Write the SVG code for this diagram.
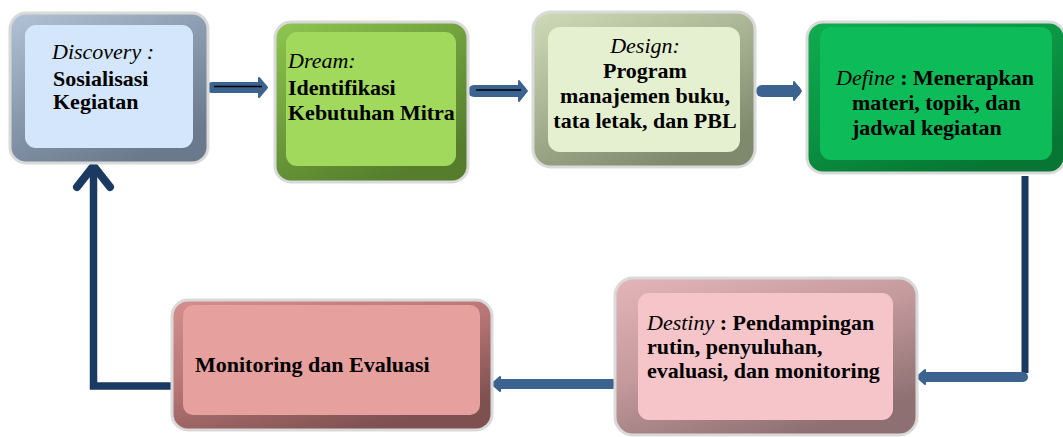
<svg xmlns="http://www.w3.org/2000/svg" width="1063" height="437" viewBox="0 0 1063 437">
<defs>
<linearGradient id="gBlue" x1="0" y1="0" x2="0.6" y2="1"><stop offset="0" stop-color="#b3c3d7"/><stop offset="0.5" stop-color="#8c9cb0"/><stop offset="1" stop-color="#6a798c"/></linearGradient>
<linearGradient id="gDream" x1="0" y1="0" x2="0.6" y2="1"><stop offset="0" stop-color="#8fc650"/><stop offset="0.5" stop-color="#6f9f3c"/><stop offset="1" stop-color="#557d2c"/></linearGradient>
<linearGradient id="gDesign" x1="0" y1="0" x2="0.6" y2="1"><stop offset="0" stop-color="#cfdbb8"/><stop offset="0.5" stop-color="#a9b494"/><stop offset="1" stop-color="#7f8a6d"/></linearGradient>
<linearGradient id="gDefine" x1="0" y1="0" x2="0.6" y2="1"><stop offset="0" stop-color="#10ac50"/><stop offset="0.5" stop-color="#0b9644"/><stop offset="1" stop-color="#077634"/></linearGradient>
<linearGradient id="gDestiny" x1="0" y1="0" x2="0.6" y2="1"><stop offset="0" stop-color="#e4b5b8"/><stop offset="0.5" stop-color="#c49a9d"/><stop offset="1" stop-color="#8e7072"/></linearGradient>
<linearGradient id="gMon" x1="0" y1="0" x2="0.6" y2="1"><stop offset="0" stop-color="#d48e8e"/><stop offset="0.5" stop-color="#b87676"/><stop offset="1" stop-color="#7e5050"/></linearGradient>
</defs>
<style>
.outer{stroke:#d9d9d9;stroke-width:3}
.t{font-family:"Liberation Serif","Times New Roman",serif;font-size:22px;font-weight:bold;fill:#000}
.i{font-style:italic;font-weight:normal}
.arr{stroke:#3c6390;stroke-linecap:round;fill:none}
.head{fill:#3c6390;stroke:#3c6390;stroke-width:2;stroke-linejoin:round}
.navy{stroke:#1b3a62;fill:none}
</style>

<g id="connectors">
  <!-- Discovery -> Dream -->
  <line class="arr" x1="212" y1="87.5" x2="260" y2="87.5" stroke-width="11"/>
  <polygon class="head" points="259,78 267,87.5 259,97"/>
  <line x1="214" y1="86.5" x2="262" y2="86.5" stroke="#000" stroke-width="1.5"/>
  <!-- Dream -> Design -->
  <line class="arr" x1="474" y1="91" x2="520" y2="91" stroke-width="12"/>
  <polygon class="head" points="519,81 527,91 519,101"/>
  <line x1="476" y1="90" x2="521" y2="90" stroke="#000" stroke-width="1.5"/>
  <!-- Design -> Define -->
  <line class="arr" x1="762" y1="91" x2="795" y2="91" stroke-width="12"/>
  <polygon class="head" points="794,82 801,91 794,100"/>
  <!-- Define -> Destiny -->
  <line class="navy" x1="1025" y1="176" x2="1025" y2="373" stroke-width="7"/>
  <line class="arr" x1="1023" y1="377" x2="925" y2="377" stroke-width="10"/>
  <polygon class="head" points="925,370 917,377 925,384"/>
  <!-- Destiny -> Monitoring -->
  <line class="arr" x1="613" y1="384" x2="500" y2="384" stroke-width="10"/>
  <polygon class="head" points="500,377 492,384 500,391"/>
  <!-- Monitoring -> Discovery -->
  <polyline class="navy" points="173,386 93.5,386 93.5,170" stroke-width="7.5" stroke-linejoin="miter"/>
  <polyline class="navy" points="77,187 93.5,166 110,187" stroke-width="8" stroke-linecap="round" stroke-linejoin="round"/>
</g>

<g id="discovery">
  <rect class="outer" x="10" y="13" width="198" height="150" rx="16" fill="url(#gBlue)"/>
  <rect x="25" y="25" width="168" height="123" rx="11" fill="#d4e6fb"/>
  <text class="t i" x="52" y="59">Discovery :</text>
  <text class="t" x="53" y="86">Sosialisasi</text>
  <text class="t" x="53" y="109">Kegiatan</text>
</g>

<g id="dream">
  <rect class="outer" x="275" y="22" width="193" height="160" rx="16" fill="url(#gDream)"/>
  <rect x="286" y="32" width="170" height="134" rx="11" fill="#a0d95b"/>
  <text class="t i" x="288" y="68">Dream:</text>
  <text class="t" x="288" y="95">Identifikasi</text>
  <text class="t" x="288" y="120">Kebutuhan Mitra</text>
</g>

<g id="design">
  <rect class="outer" x="533" y="12" width="222" height="155" rx="18" fill="url(#gDesign)"/>
  <rect x="548" y="27" width="192" height="125" rx="12" fill="#e5f0d0"/>
  <text class="t i" x="645" y="53" text-anchor="middle">Design:</text>
  <text class="t" x="645" y="78" text-anchor="middle">Program</text>
  <text class="t" x="645" y="103" text-anchor="middle">manajemen buku,</text>
  <text class="t" x="645" y="128" text-anchor="middle">tata letak, dan PBL</text>
</g>

<g id="define">
  <rect class="outer" x="807" y="22" width="258" height="151" rx="16" fill="url(#gDefine)"/>
  <rect x="820" y="27" width="232" height="133" rx="11" fill="#0dbb58"/>
  <text class="t" x="836" y="85"><tspan class="i">Define</tspan> : Menerapkan</text>
  <text class="t" x="852" y="110">materi, topik, dan</text>
  <text class="t" x="852" y="135">jadwal kegiatan</text>
</g>

<g id="destiny">
  <rect class="outer" x="615" y="278" width="302" height="157" rx="18" fill="url(#gDestiny)"/>
  <rect x="638" y="293" width="255" height="127" rx="11" fill="#f5c5c9"/>
  <text class="t" x="647" y="330"><tspan class="i">Destiny</tspan> : Pendampingan</text>
  <text class="t" x="647" y="354">rutin, penyuluhan,</text>
  <text class="t" x="647" y="378">evaluasi, dan monitoring</text>
</g>

<g id="monitoring">
  <rect class="outer" x="172" y="300" width="320" height="130" rx="16" fill="url(#gMon)"/>
  <rect x="183" y="305" width="297" height="110" rx="10" fill="#e6a09e"/>
  <text class="t" x="195" y="372">Monitoring dan Evaluasi</text>
</g>
</svg>
